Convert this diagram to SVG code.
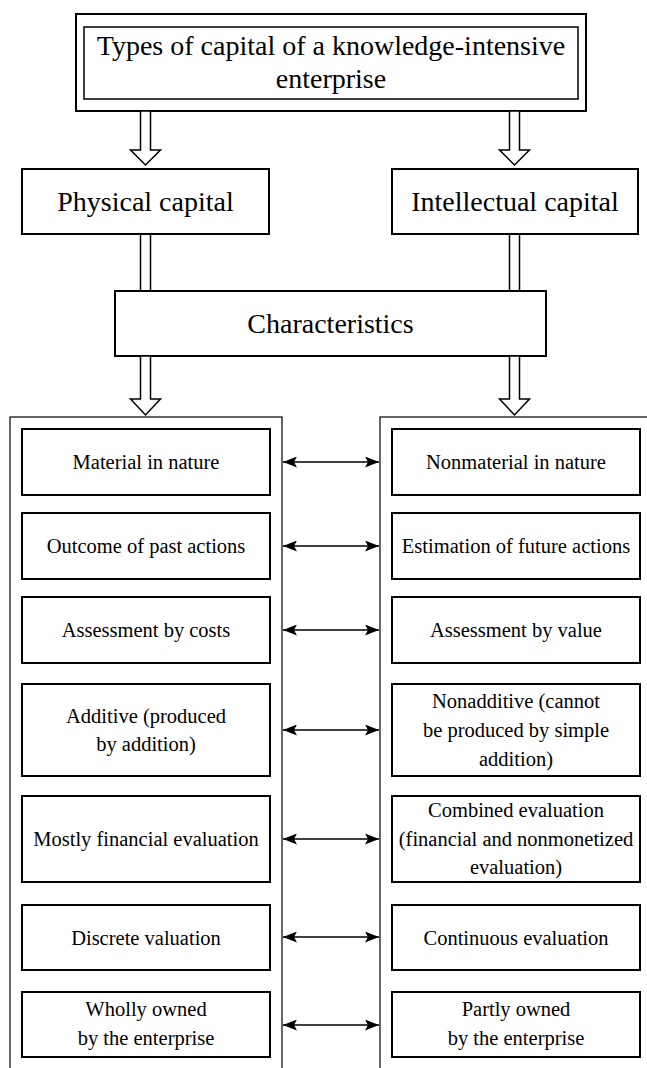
<svg xmlns="http://www.w3.org/2000/svg" width="647" height="1068" viewBox="0 0 647 1068">
<defs>
<marker id="ah" viewBox="0 0 14 11" refX="14" refY="5.5" markerWidth="14" markerHeight="11" markerUnits="userSpaceOnUse" orient="auto-start-reverse">
<path d="M0,0 L14,5.5 L0,11 L3,5.5 z" fill="#000"/>
</marker>
<style>
.box{fill:#fff;stroke:#000;stroke-width:2}
.thin{fill:none;stroke:#000;stroke-width:1.2}
.blk{fill:#fff;stroke:#000;stroke-width:1.5;stroke-linejoin:miter}
.dl{stroke:#000;stroke-width:1.5}
.ha{stroke:#000;stroke-width:1.5;marker-start:url(#ah);marker-end:url(#ah)}
.big{font-family:"Liberation Serif","Times New Roman",serif;font-size:28px;text-anchor:middle;fill:#000}
.t{font-family:"Liberation Serif","Times New Roman",serif;font-size:20.5px;text-anchor:middle;fill:#000}
</style>
</defs>
<rect width="647" height="1068" fill="#fff"/>

<g id="title">
<rect x="76" y="14" width="510" height="97" class="box"/>
<rect x="84" y="27" width="494" height="72" fill="none" stroke="#000" stroke-width="1.5"/>
<text class="big" x="331" y="55">Types of capital of a knowledge-intensive</text>
<text class="big" x="331" y="88">enterprise</text>
</g>

<g id="physical">
<rect x="22" y="169" width="247" height="65" class="box"/>
<text class="big" x="145.5" y="211">Physical capital</text>
</g>
<g id="intellectual">
<rect x="392" y="169" width="246" height="65" class="box"/>
<text class="big" x="515" y="211">Intellectual capital</text>
</g>
<g id="characteristics">
<rect x="115" y="291" width="431" height="65" class="box"/>
<text class="big" x="330.5" y="333">Characteristics</text>
</g>

<g id="left-column">
<rect x="10" y="417" width="272" height="700" class="thin"/>
</g>
<g id="right-column">
<rect x="380" y="417" width="300" height="700" class="thin"/>
</g>

<g id="l1"><rect x="22" y="429" width="248" height="66" class="box"/><text class="t" x="146" y="469">Material in nature</text></g>
<g id="l2"><rect x="22" y="513" width="248" height="66" class="box"/><text class="t" x="146" y="553">Outcome of past actions</text></g>
<g id="l3"><rect x="22" y="597" width="248" height="66" class="box"/><text class="t" x="146" y="637">Assessment by costs</text></g>
<g id="l4"><rect x="22" y="684" width="248" height="92" class="box"/><text class="t" x="146" y="723">Additive (produced</text><text class="t" x="146" y="751">by addition)</text></g>
<g id="l5"><rect x="22" y="796" width="248" height="86" class="box"/><text class="t" x="146" y="846">Mostly financial evaluation</text></g>
<g id="l6"><rect x="22" y="905" width="248" height="65" class="box"/><text class="t" x="146" y="945">Discrete valuation</text></g>
<g id="l7"><rect x="22" y="992" width="248" height="65" class="box"/><text class="t" x="146" y="1016">Wholly owned</text><text class="t" x="146" y="1045">by the enterprise</text></g>

<g id="r1"><rect x="392" y="429" width="248" height="66" class="box"/><text class="t" x="516" y="469">Nonmaterial in nature</text></g>
<g id="r2"><rect x="392" y="513" width="248" height="66" class="box"/><text class="t" x="516" y="553">Estimation of future actions</text></g>
<g id="r3"><rect x="392" y="597" width="248" height="66" class="box"/><text class="t" x="516" y="637">Assessment by value</text></g>
<g id="r4"><rect x="392" y="684" width="248" height="92" class="box"/><text class="t" x="516" y="708">Nonadditive (cannot</text><text class="t" x="516" y="737">be produced by simple</text><text class="t" x="516" y="766">addition)</text></g>
<g id="r5"><rect x="392" y="796" width="248" height="86" class="box"/><text class="t" x="516" y="817">Combined evaluation</text><text class="t" x="516" y="846">(financial and nonmonetized</text><text class="t" x="516" y="874">evaluation)</text></g>
<g id="r6"><rect x="392" y="905" width="248" height="65" class="box"/><text class="t" x="516" y="945">Continuous evaluation</text></g>
<g id="r7"><rect x="392" y="992" width="248" height="65" class="box"/><text class="t" x="516" y="1016">Partly owned</text><text class="t" x="516" y="1045">by the enterprise</text></g>

<g id="connectors">
<polygon class="blk" points="140.5,111 140.5,150 130.5,150 145.5,165 160.5,150 150.5,150 150.5,111"/>
<polygon class="blk" points="509.5,111 509.5,150 499.5,150 514.5,165 529.5,150 519.5,150 519.5,111"/>
<line class="dl" x1="140.5" y1="234" x2="140.5" y2="291"/>
<line class="dl" x1="150.5" y1="234" x2="150.5" y2="291"/>
<line class="dl" x1="509.5" y1="234" x2="509.5" y2="291"/>
<line class="dl" x1="519.5" y1="234" x2="519.5" y2="291"/>
<polygon class="blk" points="140.5,356 140.5,399 130.5,399 145.5,415 160.5,399 150.5,399 150.5,356"/>
<polygon class="blk" points="509.5,356 509.5,399 499.5,399 514.5,415 529.5,399 519.5,399 519.5,356"/>
<line class="ha" x1="283" y1="462" x2="379" y2="462"/>
<line class="ha" x1="283" y1="546" x2="379" y2="546"/>
<line class="ha" x1="283" y1="630" x2="379" y2="630"/>
<line class="ha" x1="283" y1="730" x2="379" y2="730"/>
<line class="ha" x1="283" y1="839" x2="379" y2="839"/>
<line class="ha" x1="283" y1="937" x2="379" y2="937"/>
<line class="ha" x1="283" y1="1025" x2="379" y2="1025"/>
</g>
</svg>
